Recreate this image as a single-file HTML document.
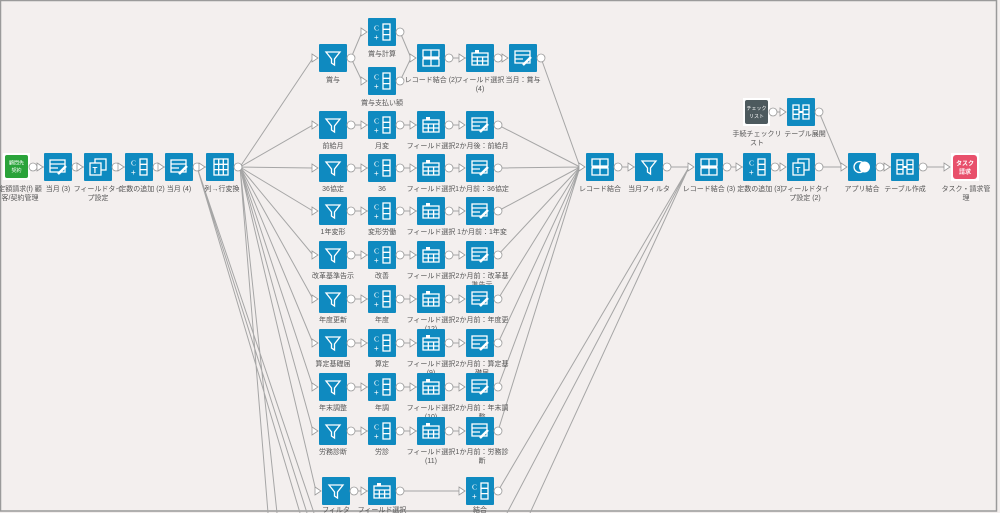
<!DOCTYPE html>
<html><head><meta charset="utf-8"><style>
html,body{margin:0;padding:0;background:#f3efee}
svg{display:block}
text{font-family:"Liberation Sans","Noto Sans CJK JP",sans-serif}
.l{font-size:7px;fill:#555;text-anchor:middle}
.c{stroke:#a6a6a6;stroke-width:1;fill:none}
.i{stroke:#fff;stroke-width:1.3;fill:none}
</style></head><body>
<svg width="1000" height="513" viewBox="0 0 1000 513" xmlns="http://www.w3.org/2000/svg">
<defs>
<g id="n"><rect x="0" y="0" width="28" height="28" rx="1" fill="#0f8ac0"/></g>
<g id="p"><polygon points="-7,10 -1,14 -7,18" fill="#fff" stroke="#999" stroke-width="0.8"/><circle cx="32" cy="14" r="4" fill="#fff" stroke="#999" stroke-width="0.8"/></g>
<g id="ifilter"><use href="#n"/><path class="i" d="M7 8H21L15.5 15V21L12.5 19V15Z"/></g>
<g id="icalc"><use href="#n"/><text x="6" y="12.5" font-size="7.5" fill="#fff" style="font-family:'Liberation Serif',serif">C</text><text x="6" y="22" font-size="8" fill="#fff">+</text><rect class="i" x="15" y="6" width="7" height="16"/><path class="i" d="M15 11.3H22M15 16.6H22"/></g>
<g id="ifield"><use href="#n"/><rect x="9" y="6" width="4" height="3" fill="#fff"/><rect class="i" x="6" y="9" width="16" height="12"/><path class="i" d="M6 13H22M6 17H22M11.3 13V21M16.6 13V21"/></g>
<g id="iedit"><use href="#n"/><rect class="i" x="6" y="7" width="15" height="12"/><path class="i" d="M6 11H21M6 15H14"/><path d="M14 21L22 13" stroke="#fff" stroke-width="2.5"/></g>
<g id="imerge"><use href="#n"/><rect class="i" x="6" y="6" width="16" height="7"/><rect class="i" x="6" y="15" width="16" height="7"/><path class="i" d="M14 6V22M6 14H22"/></g>
<g id="ipivot"><use href="#n"/><rect class="i" x="8" y="6" width="14" height="16"/><path class="i" d="M12.7 6V22M17.3 6V22M8 11.3H22M8 16.6H22"/></g>
<g id="itype"><use href="#n"/><rect class="i" x="11" y="6" width="11" height="11"/><rect x="6" y="10" width="11" height="12" fill="#0f8ac0" stroke="#fff" stroke-width="1.3"/><text x="8.5" y="20" font-size="8" fill="#fff" font-weight="bold">T</text></g>
<g id="iapp"><use href="#n"/><circle cx="11.5" cy="14" r="5.5" class="i"/><circle cx="16.5" cy="14" r="5.5" fill="#fff"/></g>
<g id="itable"><use href="#n"/><rect class="i" x="6" y="7" width="6" height="14"/><rect class="i" x="16" y="7" width="6" height="14"/><path class="i" d="M6 11.6H12M6 16.3H12M16 11.6H22M16 16.3H22"/><rect x="12.5" y="13" width="3" height="2" fill="#fff"/></g>
</defs>
<rect x="0" y="0" width="1000" height="513" fill="#f3efee"/>
<rect x="0.5" y="0.5" width="996" height="510.5" fill="none" stroke="#9a9a9a" stroke-width="1.5"/>

<g class="c">
<path d="M33 167H206"/>
<path d="M197 167L300 513M197 167L307 513M197 167L314 513M240 167L268 513M240 167L277 513"/>
<path d="M240 167L313 58M240 167L313 125M240 167L313 168M240 167L313 211M240 167L313 255M240 167L313 299M240 167L313 343M240 167L313 387M240 167L313 431M240 167L316 491"/>
<path d="M351 58L362 32M351 58L362 81M400 32L411 58M400 81L411 58M449 58H503M541 58L580 167"/>
<path d="M351 125H460M351 168H460M351 211H460M351 255H460M351 299H460M351 343H460M351 387H460M351 431H460"/>
<path d="M498 125L580 167M498 168L580 167M498 211L580 167M498 255L580 167M498 299L580 167M498 343L580 167M498 387L580 167M498 431L580 167"/>
<path d="M354 491H460M498 491L689 167M507 513L689 167M530 513L689 167"/>
<path d="M618 167H689M727 167H781M819 167H842M771 112H781M819 112L842 167M880 167H945"/>
</g>

<g transform="translate(3,153)"><rect width="27" height="27" fill="#fff"/><rect x="2" y="2" width="23" height="23" rx="2" fill="#2aa33a"/><text x="13.5" y="11.5" font-size="5" fill="#fff" text-anchor="middle">顧問先</text><text x="13.5" y="19" font-size="5" fill="#fff" text-anchor="middle">契約</text><circle cx="30" cy="14" r="4" fill="#fff" stroke="#999" stroke-width="0.8"/></g>
<text class="l" x="20" y="191">定額請求(f) 顧</text><text class="l" x="20" y="200">客/契約管理</text>
<g transform="translate(44,153)"><use href="#iedit"/><use href="#p"/></g><text class="l" x="58" y="191">当月 (3)</text>
<g transform="translate(84,153)"><use href="#itype"/><use href="#p"/></g><text class="l" x="98" y="191">フィールドタイ</text><text class="l" x="98" y="200">プ設定</text>
<g transform="translate(125,153)"><use href="#icalc"/><use href="#p"/></g><text class="l" x="142" y="191">定数の追加 (2)</text>
<g transform="translate(165,153)"><use href="#iedit"/><use href="#p"/></g><text class="l" x="179" y="191">当月 (4)</text>
<g transform="translate(206,153)"><use href="#ipivot"/><use href="#p"/></g><text class="l" x="222" y="191">列→行変換</text>

<g transform="translate(319,44)"><use href="#ifilter"/><use href="#p"/></g><text class="l" x="333" y="82">賞与</text>
<g transform="translate(368,18)"><use href="#icalc"/><use href="#p"/></g><text class="l" x="382" y="56">賞与計算</text>
<g transform="translate(368,67)"><use href="#icalc"/><use href="#p"/></g><text class="l" x="382" y="105">賞与支払い額</text>
<g transform="translate(417,44)"><use href="#imerge"/><use href="#p"/></g><text class="l" x="431" y="82">レコード結合 (2)</text>
<g transform="translate(466,44)"><use href="#ifield"/><use href="#p"/></g><text class="l" x="480" y="82">フィールド選択</text><text class="l" x="480" y="91">(4)</text>
<g transform="translate(509,44)"><use href="#iedit"/><use href="#p"/></g><text class="l" x="523" y="82">当月：賞与</text>

<g transform="translate(319,111)"><use href="#ifilter"/><use href="#p"/></g><text class="l" x="333" y="148">前給月</text>
<g transform="translate(368,111)"><use href="#icalc"/><use href="#p"/></g><text class="l" x="382" y="148">月変</text>
<g transform="translate(417,111)"><use href="#ifield"/><use href="#p"/></g><text class="l" x="431" y="148">フィールド選択</text>
<g transform="translate(466,111)"><use href="#iedit"/><use href="#p"/></g><text class="l" x="482" y="148">2か月後：前給月</text>

<g transform="translate(319,154)"><use href="#ifilter"/><use href="#p"/></g><text class="l" x="333" y="191">36協定</text>
<g transform="translate(368,154)"><use href="#icalc"/><use href="#p"/></g><text class="l" x="382" y="191">36</text>
<g transform="translate(417,154)"><use href="#ifield"/><use href="#p"/></g><text class="l" x="431" y="191">フィールド選択</text>
<g transform="translate(466,154)"><use href="#iedit"/><use href="#p"/></g><text class="l" x="482" y="191">1か月前：36協定</text>

<g transform="translate(319,197)"><use href="#ifilter"/><use href="#p"/></g><text class="l" x="333" y="234">1年変形</text>
<g transform="translate(368,197)"><use href="#icalc"/><use href="#p"/></g><text class="l" x="382" y="234">変形労働</text>
<g transform="translate(417,197)"><use href="#ifield"/><use href="#p"/></g><text class="l" x="431" y="234">フィールド選択</text>
<g transform="translate(466,197)"><use href="#iedit"/><use href="#p"/></g><text class="l" x="482" y="234">1か月前：1年変</text>

<g transform="translate(319,241)"><use href="#ifilter"/><use href="#p"/></g><text class="l" x="333" y="278">改革基準告示</text>
<g transform="translate(368,241)"><use href="#icalc"/><use href="#p"/></g><text class="l" x="382" y="278">改善</text>
<g transform="translate(417,241)"><use href="#ifield"/><use href="#p"/></g><text class="l" x="431" y="278">フィールド選択</text>
<g transform="translate(466,241)"><use href="#iedit"/><use href="#p"/></g><text class="l" x="482" y="278">2か月前：改革基</text><text class="l" x="482" y="287">準告示</text>

<g transform="translate(319,285)"><use href="#ifilter"/><use href="#p"/></g><text class="l" x="333" y="322">年度更新</text>
<g transform="translate(368,285)"><use href="#icalc"/><use href="#p"/></g><text class="l" x="382" y="322">年度</text>
<g transform="translate(417,285)"><use href="#ifield"/><use href="#p"/></g><text class="l" x="431" y="322">フィールド選択</text><text class="l" x="431" y="331">(12)</text>
<g transform="translate(466,285)"><use href="#iedit"/><use href="#p"/></g><text class="l" x="482" y="322">2か月前：年度更</text>

<g transform="translate(319,329)"><use href="#ifilter"/><use href="#p"/></g><text class="l" x="333" y="366">算定基礎届</text>
<g transform="translate(368,329)"><use href="#icalc"/><use href="#p"/></g><text class="l" x="382" y="366">算定</text>
<g transform="translate(417,329)"><use href="#ifield"/><use href="#p"/></g><text class="l" x="431" y="366">フィールド選択</text><text class="l" x="431" y="375">(9)</text>
<g transform="translate(466,329)"><use href="#iedit"/><use href="#p"/></g><text class="l" x="482" y="366">2か月前：算定基</text><text class="l" x="482" y="375">礎届</text>

<g transform="translate(319,373)"><use href="#ifilter"/><use href="#p"/></g><text class="l" x="333" y="410">年末調整</text>
<g transform="translate(368,373)"><use href="#icalc"/><use href="#p"/></g><text class="l" x="382" y="410">年調</text>
<g transform="translate(417,373)"><use href="#ifield"/><use href="#p"/></g><text class="l" x="431" y="410">フィールド選択</text><text class="l" x="431" y="419">(10)</text>
<g transform="translate(466,373)"><use href="#iedit"/><use href="#p"/></g><text class="l" x="482" y="410">2か月前：年末調</text><text class="l" x="482" y="419">整</text>

<g transform="translate(319,417)"><use href="#ifilter"/><use href="#p"/></g><text class="l" x="333" y="454">労務診断</text>
<g transform="translate(368,417)"><use href="#icalc"/><use href="#p"/></g><text class="l" x="382" y="454">労診</text>
<g transform="translate(417,417)"><use href="#ifield"/><use href="#p"/></g><text class="l" x="431" y="454">フィールド選択</text><text class="l" x="431" y="463">(11)</text>
<g transform="translate(466,417)"><use href="#iedit"/><use href="#p"/></g><text class="l" x="482" y="454">1か月前：労務診</text><text class="l" x="482" y="463">断</text>

<g transform="translate(322,477)"><use href="#ifilter"/><use href="#p"/></g><text class="l" x="336" y="512">フィルタ</text>
<g transform="translate(368,477)"><use href="#ifield"/><use href="#p"/></g><text class="l" x="382" y="512">フィールド選択</text>
<g transform="translate(466,477)"><use href="#icalc"/><use href="#p"/></g><text class="l" x="480" y="512">結合</text>

<g transform="translate(586,153)"><use href="#imerge"/><use href="#p"/></g><text class="l" x="600" y="191">レコード結合</text>
<g transform="translate(635,153)"><use href="#ifilter"/><use href="#p"/></g><text class="l" x="649" y="191">当月フィルタ</text>
<g transform="translate(695,153)"><use href="#imerge"/><use href="#p"/></g><text class="l" x="709" y="191">レコード結合 (3)</text>
<g transform="translate(743,153)"><use href="#icalc"/><use href="#p"/></g><text class="l" x="760" y="191">定数の追加 (3)</text>
<g transform="translate(787,153)"><use href="#itype"/><use href="#p"/></g><text class="l" x="805" y="191">フィールドタイ</text><text class="l" x="805" y="200">プ設定 (2)</text>
<g transform="translate(743,98)"><rect width="27" height="28" fill="#fff"/><rect x="2" y="2" width="23" height="24" rx="2" fill="#4d5a5e"/><text x="13.5" y="12" font-size="5" fill="#fff" text-anchor="middle">チェック</text><text x="13.5" y="20" font-size="5" fill="#fff" text-anchor="middle">リスト</text><circle cx="30" cy="14" r="4" fill="#fff" stroke="#999" stroke-width="0.8"/></g>
<text class="l" x="757" y="136">手続チェックリ</text><text class="l" x="757" y="145">スト</text>
<g transform="translate(787,98)"><use href="#itable"/><use href="#p"/></g><text class="l" x="805" y="136">テーブル展開</text>
<g transform="translate(848,153)"><use href="#iapp"/><use href="#p"/></g><text class="l" x="862" y="191">アプリ結合</text>
<g transform="translate(891,153)"><use href="#itable"/><use href="#p"/></g><text class="l" x="905" y="191">テーブル作成</text>
<g transform="translate(951,153)"><polygon points="-7,10 -1,14 -7,18" fill="#fff" stroke="#999" stroke-width="0.8"/><rect width="28" height="28" fill="#fff"/><rect x="2" y="2" width="24" height="24" rx="3" fill="#e8506b"/><text x="14" y="12.5" font-size="6" fill="#fff" text-anchor="middle" font-weight="bold">タスク</text><text x="14" y="21" font-size="6" fill="#fff" text-anchor="middle" font-weight="bold">請求</text></g>
<text class="l" x="966" y="191">タスク・請求管</text><text class="l" x="966" y="200">理</text>
</svg>
</body></html>
